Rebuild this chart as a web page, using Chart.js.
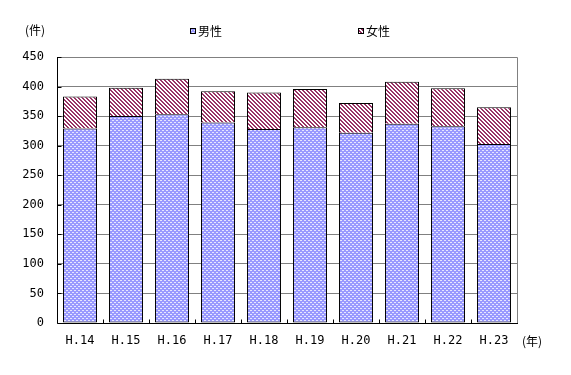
<!DOCTYPE html>
<html>
<head>
<meta charset="utf-8">
<script src="https://cdn.jsdelivr.net/npm/chart.js@4.4.1/dist/chart.umd.min.js"></script>
<style>
  html, body { margin: 0; padding: 0; background: #fff; }
</style>
</head>
<body>
<canvas id="chart" width="571" height="375"></canvas>
<script>
// data
const years = ['H.14', 'H.15', 'H.16', 'H.17', 'H.18', 'H.19', 'H.20', 'H.21', 'H.22', 'H.23'];
const male = [329, 350, 353, 339, 328, 331, 322, 337, 333, 303];
const female = [54, 48, 60, 53, 62, 65, 50, 71, 64, 62];
const seriesNames = ['男性', '女性'];
const yMax = 450;
const yStep = 50;

const FONT = '"Noto Sans CJK JP", "DejaVu Sans", sans-serif';
const MONO = '"DejaVu Sans Mono", "Liberation Mono", monospace';

// small pixel patterns like the old spreadsheet fills
function makePattern(size, bg, fg, isOn) {
    const c = document.createElement('canvas');
    c.width = size; c.height = size;
    const g = c.getContext('2d');
    g.fillStyle = bg;
    g.fillRect(0, 0, size, size);
    g.fillStyle = fg;
    for (let y = 0; y < size; y++) {
        for (let x = 0; x < size; x++) {
            if (isOn(x, y)) g.fillRect(x, y, 1, 1);
        }
    }
    return document.getElementById('chart').getContext('2d').createPattern(c, 'repeat');
}

const malePattern = makePattern(4, '#9999ff', '#e6e6ff', (x, y) => (y === 0 && x < 2) || (y === 2 && x >= 2));
const femalePattern = makePattern(4, '#ffffff', '#993366', (x, y) => ((x - y + 8) % 4) < 2);

const extras = {
    id: 'extras',
    afterDraw(chart) {
        const { ctx, chartArea: a, scales: { y } } = chart;
        ctx.save();

        // grey frame on top and right
        ctx.strokeStyle = '#808080';
        ctx.lineWidth = 1;
        ctx.beginPath();
        ctx.moveTo(a.left, Math.round(a.top) + 0.5);
        ctx.lineTo(Math.round(a.right) + 0.5, Math.round(a.top) + 0.5);
        ctx.lineTo(Math.round(a.right) + 0.5, Math.round(a.bottom));
        ctx.stroke();

        // black axes with inward tick marks
        ctx.strokeStyle = '#000';
        ctx.beginPath();
        const bx = Math.round(a.left) + 0.5;
        const by = Math.round(a.bottom) + 0.5;
        ctx.moveTo(bx, Math.round(a.top));
        ctx.lineTo(bx, by);
        ctx.lineTo(Math.round(a.right) + 1, by);
        y.ticks.forEach(t => {
            const py = Math.round(y.getPixelForValue(t.value)) + 0.5;
            ctx.moveTo(bx, py);
            ctx.lineTo(bx + 4, py);
        });
        const n = years.length;
        const w = (a.right - a.left) / n;
        for (let i = 1; i < n; i++) {
            const px = Math.round(a.left + i * w) + 0.5;
            ctx.moveTo(px, by);
            ctx.lineTo(px, by - 4);
        }
        ctx.stroke();

        // unit labels
        ctx.fillStyle = '#000';
        ctx.font = '12px ' + FONT;
        ctx.textBaseline = 'middle';
        ctx.textAlign = 'left';
        ctx.fillText('(件)', 25, 30);
        ctx.fillText('(年)', 522, 341);

        // legend
        const legendX = [190, 358];
        chart.data.datasets.forEach((ds, i) => {
            const lx = legendX[i];
            ctx.fillStyle = ds.backgroundColor;
            ctx.fillRect(lx, 28, 6, 6);
            ctx.strokeStyle = '#000';
            ctx.strokeRect(lx + 0.5, 28.5, 5, 5);
            ctx.fillStyle = '#000';
            ctx.fillText(ds.label, lx + 8, 31);
        });

        ctx.restore();
    }
};

new Chart(document.getElementById('chart'), {
    type: 'bar',
    data: {
        labels: years,
        datasets: [
            {
                label: seriesNames[0],
                data: male,
                backgroundColor: malePattern,
                borderColor: '#000',
                borderWidth: 1,
                borderSkipped: false
            },
            {
                label: seriesNames[1],
                data: female,
                backgroundColor: femalePattern,
                borderColor: '#000',
                borderWidth: 1,
                borderSkipped: 'bottom'
            }
        ]
    },
    options: {
        responsive: false,
        animation: false,
        categoryPercentage: 0.74,
        barPercentage: 1,
        layout: { padding: { top: 57, right: 54, bottom: 22, left: 0 } },
        plugins: {
            legend: { display: false },
            tooltip: { enabled: false }
        },
        scales: {
            x: {
                stacked: true,
                grid: { display: false, drawTicks: false },
                border: { display: false },
                ticks: { color: '#000', font: { family: MONO, size: 12 }, padding: 11 },
                afterFit(scale) { scale.height = 30; }
            },
            y: {
                stacked: true,
                min: 0,
                max: yMax,
                grid: {
                    color: ctx => ctx.tick && ctx.tick.value === 0 ? 'rgba(0,0,0,0)' : '#808080',
                    drawTicks: false
                },
                border: { display: false },
                ticks: {
                    stepSize: yStep,
                    color: '#000',
                    font: { family: MONO, size: 12 },
                    padding: 13
                },
                afterFit(scale) { scale.width = 57; }
            }
        }
    },
    plugins: [extras]
});
</script>
</body>
</html>
